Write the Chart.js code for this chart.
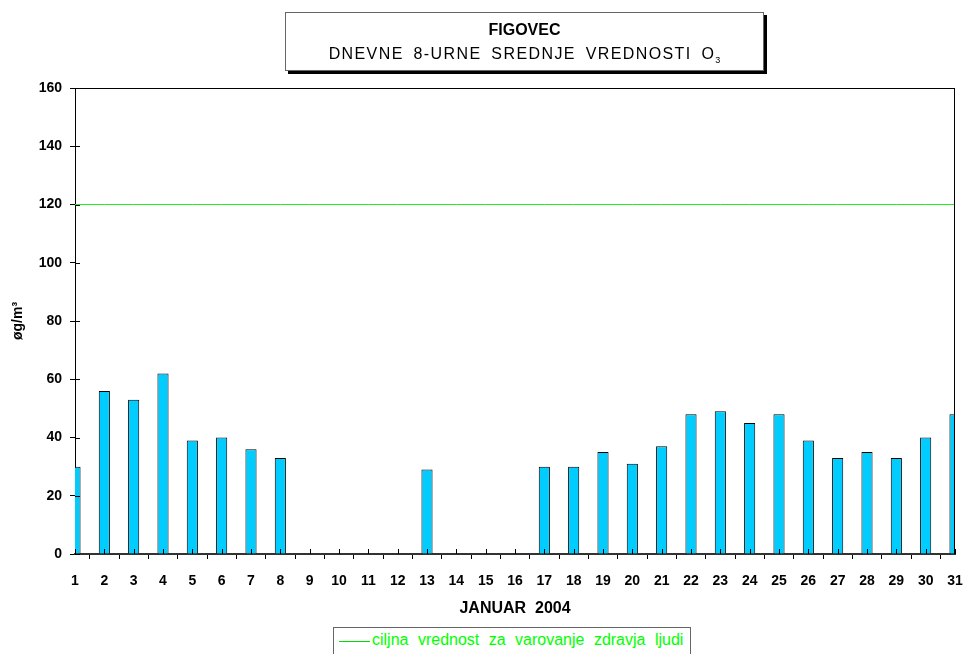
<!DOCTYPE html>
<html>
<head>
<meta charset="utf-8">
<script src="https://cdn.jsdelivr.net/npm/chart.js@4"></script>
<style>
body { margin: 0; background: #fff; font-family: "Liberation Sans", Arial, sans-serif; }
#wrap { position: relative; width: 964px; height: 654px; overflow: hidden; }
#naslov {
    position: absolute; left: 285px; top: 12px; width: 479px; height: 59px;
    box-sizing: border-box; border: 1px solid #666; background: #fff;
    box-shadow: 3px 3px 0 #000; text-align: center;
}
#naslov .t1 { font-weight: bold; font-size: 16px; margin-top: 8px; }
#naslov .t2 { font-size: 16px; margin-top: 6px; word-spacing: 4px; letter-spacing: 1.4px; }
#naslov sub { font-size: 9px; letter-spacing: 0; }
#legenda {
    position: absolute; left: 333px; top: 627px; width: 358px; height: 40px;
    box-sizing: border-box; border: 1px solid #666; background: #fff;
    color: #00ff00; font-size: 16px; word-spacing: 5px;
}
#legenda .crta { position: absolute; left: 5px; top: 13px; width: 31px; height: 1px; background: #00e000; }
#legenda .tekst { position: absolute; left: 38px; top: 3px; white-space: nowrap; }
</style>
</head>
<body>
<div id="wrap">
<canvas id="myChart" width="964" height="654"></canvas>
<div id="naslov">
    <div class="t1">FIGOVEC</div>
    <div class="t2">DNEVNE 8-URNE SREDNJE VREDNOSTI O<sub>3</sub></div>
</div>
<div id="legenda"><div class="crta"></div><div class="tekst">ciljna vrednost za varovanje zdravja ljudi</div></div>
</div>
<script>
const days = ["1","2","3","4","5","6","7","8","9","10","11","12","13","14","15","16",
    "17","18","19","20","21","22","23","24","25","26","27","28","29","30","31"];
const ozone = [30,56,53,62,39,40,36,33,null,null,null,null,29,null,null,null,
    30,30,35,31,37,48,49,45,48,39,33,35,33,40,48];
const targetValue = 120;
const targetLine = days.map(() => targetValue);
const yTicks = [0,20,40,60,80,100,120,140,160];

// kljukice, ki gredo cez os, in okvir zgoraj/desno
const frame = {
    id: 'frame',
    afterDraw(chart) {
        const c = chart.ctx, a = chart.chartArea;
        const x = chart.scales.x, y = chart.scales.y;
        c.save();
        c.strokeStyle = '#000';
        c.lineWidth = 1;
        c.beginPath();
        c.moveTo(a.left, a.top + 0.5); c.lineTo(a.right, a.top + 0.5);
        c.moveTo(a.right - 0.5, a.top); c.lineTo(a.right - 0.5, a.bottom);
        x.ticks.forEach((t, i) => {
            const px = Math.round(x.getPixelForTick(i)) + 0.5;
            c.moveTo(px, a.bottom); c.lineTo(px, a.bottom - 5);
        });
        y.ticks.forEach((t, i) => {
            const py = Math.round(y.getPixelForTick(i)) + 0.5;
            c.moveTo(a.left, py); c.lineTo(a.left + 5, py);
        });
        c.stroke();
        c.restore();
    }
};

const conf = {
    type: 'bar',
    data: {
        labels: days,
        datasets: [{
            type: 'line',
            label: 'ciljna vrednost za varovanje zdravja ljudi',
            data: targetLine,
            borderColor: '#22ee22',
            borderWidth: 1,
            pointRadius: 0,
            clip: 0,
            order: 0
        }, {
            label: 'O3',
            data: ozone,
            backgroundColor: '#00ccff',
            borderColor: '#000',
            borderWidth: 1,
            barPercentage: 0.38,
            categoryPercentage: 1,
            clip: 0,
            order: 1
        }]
    },
    plugins: [frame],
    options: {
        responsive: false,
        animation: false,
        layout: { padding: { top: 88, right: 9, bottom: 32, left: 0 } },
        plugins: {
            legend: { display: false },
            tooltip: { enabled: false }
        },
        scales: {
            x: {
                offset: false,
                afterFit: s => { s.height = 68; s.paddingLeft = 0; s.paddingRight = 0; },
                grid: { drawOnChartArea: false, tickLength: 5, color: '#000' },
                border: { color: '#333', width: 2 },
                ticks: {
                    color: '#000', padding: 14, maxRotation: 0, autoSkip: false,
                    font: { family: 'Liberation Sans', size: 14, weight: 'bold' }
                },
                title: {
                    display: true, text: 'JANUAR  2004', color: '#000',
                    font: { family: 'Liberation Sans', size: 16, weight: 'bold' }
                }
            },
            y: {
                min: 0, max: 160,
                afterFit: s => { s.width = 75; s.paddingTop = 0; s.paddingBottom = 0; },
                afterBuildTicks: s => { s.ticks = yTicks.map(v => ({ value: v })); },
                grid: { drawOnChartArea: false, tickLength: 5, color: '#000' },
                border: { color: '#000', width: 1 },
                ticks: {
                    color: '#000', padding: 8,
                    font: { family: 'Liberation Sans', size: 14, weight: 'bold' }
                },
                title: {
                    display: true, text: 'øg/m³', color: '#000',
                    padding: { top: 10 },
                    font: { family: 'Liberation Sans', size: 14, weight: 'bold' }
                }
            }
        }
    }
};

const myChart = new Chart(document.getElementById('myChart'), conf);
</script>
</body>
</html>
